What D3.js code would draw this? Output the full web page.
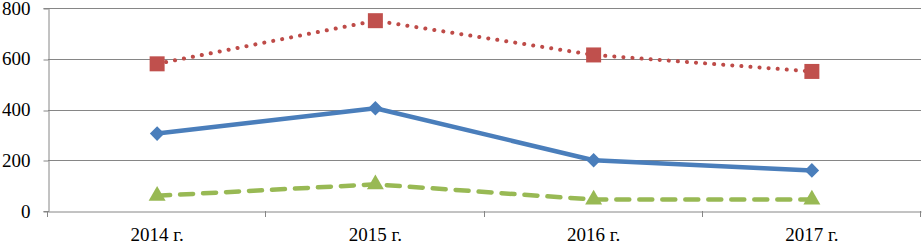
<!DOCTYPE html>
<html>
<head>
<meta charset="utf-8">
<script src="https://cdn.jsdelivr.net/npm/d3@7"></script>
<style>
  body { margin: 0; background: #fff; }
</style>
</head>
<body>
<div id="chart"></div>
<script>
const WIDTH = 922;
const HEIGHT = 244;
const MARGIN = { top: 8, right: 1, bottom: 33, left: 48 };
const FONT = "Liberation Serif";

const years = ["2014 г.", "2015 г.", "2016 г.", "2017 г."];
const redValues = [580, 750, 615, 550];
const blueValues = [305, 405, 200, 160];
const greenValues = [60, 105, 45, 45];
const yTicks = [0, 200, 400, 600, 800];

const series = [
    { name: "red", values: redValues, color: "#BE4B48", fill: "#C0504D", marker: d3.symbolSquare, size: 225, dash: "0.1 9", width: 4 },
    { name: "blue", values: blueValues, color: "#4A7EBB", fill: "#4A7EBB", marker: d3.symbolDiamond2, size: 135, dash: null, width: 4.5 },
    { name: "green", values: greenValues, color: "#98B954", fill: "#98B954", marker: d3.symbolTriangle, size: 125, dash: "13 10", width: 4.5 }
];

const svg = d3.select("#chart")
    .append("svg")
    .attr("width", WIDTH)
    .attr("height", HEIGHT);

const x = d3.scaleBand()
    .domain(years)
    .range([MARGIN.left, WIDTH - MARGIN.right]);

const y = d3.scaleLinear()
    .domain([0, 800])
    .range([HEIGHT - MARGIN.bottom, MARGIN.top]);

// gridlines
svg.append("g")
    .selectAll("line")
    .data(yTicks.filter(d => d > 0))
    .enter()
    .append("line")
    .attr("x1", MARGIN.left)
    .attr("x2", WIDTH - MARGIN.right)
    .attr("y1", d => Math.round(y(d)) + 0.5)
    .attr("y2", d => Math.round(y(d)) + 0.5)
    .attr("stroke", "#868686")
    .attr("stroke-width", 1);

// y axis
const yAxis = svg.append("g")
    .attr("transform", "translate(" + (MARGIN.left + 0.5) + ",0)")
    .call(d3.axisLeft(y).tickValues(yTicks).tickSize(5).tickPadding(13));
yAxis.select(".domain").attr("stroke", "#868686");
yAxis.selectAll(".tick line").attr("stroke", "#868686")
    .attr("transform", d => "translate(0," + (Math.round(y(d)) + 0.5 - y(d)) + ")");
yAxis.selectAll("text")
    .attr("fill", "#000")
    .attr("font-family", FONT)
    .attr("font-size", 19);

// x axis
const xAxis = svg.append("g")
    .attr("transform", "translate(0," + (Math.round(y(0)) + 0.5) + ")")
    .call(d3.axisBottom(x).tickSize(0).tickPadding(16));
xAxis.select(".domain").attr("stroke", "#868686");
xAxis.selectAll("text")
    .attr("fill", "#000")
    .attr("font-family", FONT)
    .attr("font-size", 19);

// category separators
const bounds = [MARGIN.left].concat(years.map(d => x(d) + x.bandwidth()));
svg.append("g")
    .selectAll("line")
    .data(bounds)
    .enter()
    .append("line")
    .attr("x1", d => Math.round(d) - 0.5)
    .attr("x2", d => Math.round(d) - 0.5)
    .attr("y1", y(0))
    .attr("y2", y(0) + 6)
    .attr("stroke", "#868686");

const cx = d => x(d) + x.bandwidth() / 2;

const line = d3.line()
    .x((d, i) => cx(years[i]))
    .y(d => y(d));

series.forEach(function (s) {
    svg.append("path")
        .datum(s.values)
        .attr("d", line)
        .attr("fill", "none")
        .attr("stroke", s.color)
        .attr("stroke-width", s.width)
        .attr("stroke-linecap", "round")
        .attr("stroke-linejoin", "round")
        .attr("stroke-dasharray", s.dash);

    svg.append("g")
        .selectAll("path")
        .data(s.values)
        .enter()
        .append("path")
        .attr("transform", (d, i) => "translate(" + cx(years[i]) + "," + y(d) + ")")
        .attr("d", d3.symbol().type(s.marker).size(s.size))
        .attr("fill", s.fill);
});
</script>
</body>
</html>
